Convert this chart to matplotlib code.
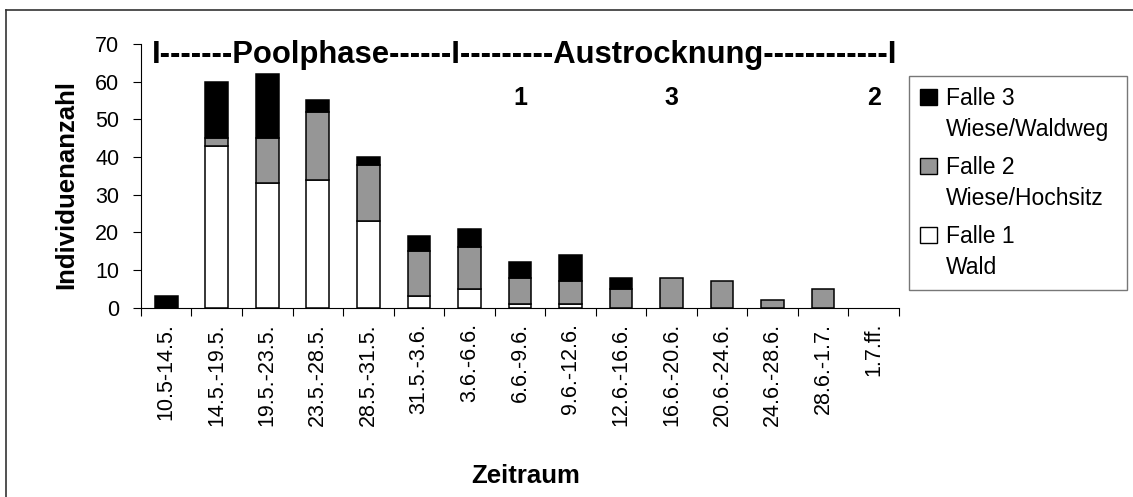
import numpy as np
import matplotlib
matplotlib.use("Agg")
import matplotlib.pyplot as plt
from matplotlib.patches import Patch, Rectangle
from matplotlib.legend_handler import HandlerPatch
from matplotlib.lines import Line2D
from matplotlib.ticker import NullFormatter

plt.rcParams['font.family'] = ['Liberation Sans', 'DejaVu Sans']

periods = ['10.5-14.5.', '14.5.-19.5.', '19.5.-23.5.', '23.5.-28.5.', '28.5.-31.5.',
           '31.5.-3.6.', '3.6.-6.6.', '6.6.-9.6.', '9.6.-12.6.', '12.6.-16.6.',
           '16.6.-20.6.', '20.6.-24.6.', '24.6.-28.6.', '28.6.-1.7.', '1.7.ff.']
falle1 = [0, 43, 33, 34, 23, 3, 5, 1, 1, 0, 0, 0, 0, 0, 0]
falle2 = [0, 2, 12, 18, 15, 12, 11, 7, 6, 5, 8, 7, 2, 5, 0]
falle3 = [3, 15, 17, 3, 2, 4, 5, 4, 7, 3, 0, 0, 0, 0, 0]
series_labels = ['Falle 1\nWald', 'Falle 2\nWiese/Hochsitz', 'Falle 3\nWiese/Waldweg']
series_colors = ['white', '#969696', 'black']

phase_text = 'I-------Poolphase------I---------Austrocknung------------I'
marks = ['1', '3', '2']
mark_pos = [7, 10, 14]

fig = plt.figure(figsize=(11.33, 4.97), dpi=100)
ax = fig.add_axes([0.1244, 0.381, 0.669, 0.5305])

x = np.arange(len(periods))
bottom = np.zeros(len(periods))
for vals, col in zip([falle1, falle2, falle3], series_colors):
    vals = np.array(vals, dtype=float)
    keep = vals > 0
    ax.bar(x[keep], vals[keep], 0.45, bottom=bottom[keep], color=col,
           edgecolor='black', linewidth=1.1, zorder=3)
    bottom += vals

ax.set_xlim(-0.5, len(periods) - 0.5)
ax.set_ylim(0, 70)
ax.set_yticks(range(0, 71, 10))
ax.set_xticks(np.arange(-0.5, len(periods), 1))
ax.xaxis.set_major_formatter(NullFormatter())
ax.set_xticks(x, periods, minor=True, rotation=90)
ax.tick_params(which='major', direction='out', length=5.5, width=0.8, labelsize=15.5, pad=10)
ax.tick_params(axis='x', which='minor', length=0, labelsize=15.5, pad=11)
for s in ['top', 'right']:
    ax.spines[s].set_visible(False)

ax.set_ylabel('Individuenanzahl', fontsize=18.5, fontweight='bold', va='baseline')
ax.yaxis.set_label_coords(-0.0893, 0.467)
ax.set_xlabel('Zeitraum', fontsize=18.5, fontweight='bold', va='baseline')
ax.xaxis.set_label_coords(0.508, -0.666)

ax.text(7.1, 65, phase_text, fontsize=22.3, fontweight='bold', ha='center', va='baseline')
for m, p in zip(marks, mark_pos):
    ax.text(p, 53.8, m, fontsize=18, fontweight='bold', ha='center', va='baseline')

# the square sits next to the first line of each two-line label
line_step = 13.2


def first_line_box(legend, orig_handle, xdescent, ydescent, width, height, fontsize):
    return Rectangle((-xdescent, -ydescent + line_step), width, height)


handles = [Patch(facecolor=c, edgecolor='black', linewidth=1) for c in series_colors][::-1]
leg_top = 1 - 76 / 497
leg = fig.legend(handles, series_labels[::-1], loc='upper left',
                 bbox_to_anchor=(909 / 1133, leg_top - 0.1, 218 / 1133, 0.1), mode='expand',
                 borderaxespad=0, fontsize=16.5, handlelength=0.7, handleheight=0.7,
                 handletextpad=0.4, borderpad=0.5, labelspacing=0.69, fancybox=False,
                 handler_map={Patch: HandlerPatch(patch_func=first_line_box)})
leg.get_frame().set_edgecolor('#555555')
leg.get_frame().set_linewidth(1)
for t in leg.get_texts():
    t.set_linespacing(1.4)

# outer chart border
fig.add_artist(Line2D([6 / 1133, 6 / 1133], [0, 1 - 10 / 497], color='#333333', lw=1.2))
fig.add_artist(Line2D([6 / 1133, 1], [1 - 10 / 497, 1 - 10 / 497], color='#333333', lw=1.2))

fig.savefig('out.png', dpi=100)
